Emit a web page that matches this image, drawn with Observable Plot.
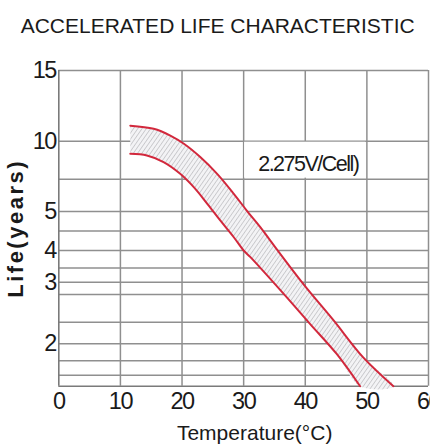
<!DOCTYPE html>
<html><head><meta charset="utf-8">
<script src="https://cdn.jsdelivr.net/npm/d3@7"></script>
<script src="https://cdn.jsdelivr.net/npm/@observablehq/plot@0.6"></script>
<style>
html,body{margin:0;padding:0;background:#fff;overflow:hidden;}
</style></head><body>
<div id="chart"></div>
<script>
const title = "ACCELERATED LIFE CHARACTERISTIC";
const xLabel = "Temperature(°C)";
const yLabel = "Life(years)";
const noteText = "2.275V/Cell)";
const tempTicks = [0, 10, 20, 30, 40, 50, 60];
const tempGrid = [10, 20, 30, 40, 50, 60];
const lifeTicks = [2, 3, 4, 5, 10, 15];
const lifeGrid = [1.63, 1.8, 2, 2.35, 2.8, 3, 3.45, 4, 4.5, 5, 7.3, 10, 15];
const lifeBreaks = [1.5, 2, 3, 4, 5, 10, 15];
// upper and lower edges of the life band
const upperTemp = [11.6, 15.4, 18.1, 20.3, 23.0, 25.7, 28.4, 30.5, 32.7, 34.3, 39.7, 44.6, 49.4, 54.3];
const upperLife = [11.1, 10.88, 10.4, 9.82, 8.86, 7.68, 6.26, 5.07, 4.6, 4.26, 2.97, 2.38, 1.84, 1.5];
const lowerTemp = [11.6, 14.3, 17.0, 19.7, 21.9, 24.1, 26.2, 28.4, 30.0, 31.1, 36.5, 40.8, 45.1, 48.9];
const lowerLife = [9.1, 8.98, 8.51, 7.68, 6.73, 5.55, 4.77, 4.34, 4.0, 3.79, 2.81, 2.32, 1.88, 1.5];
// annotation cell
const noteCell = {temp1: 30, temp2: 50, life1: 7.3, life2: 10, temp: 40.5, life: 8.4};

const upper = upperTemp.map((t, i) => ({temp: t, life: upperLife[i]}));
const lower = lowerTemp.map((t, i) => ({temp: t, life: lowerLife[i]}));
const band = upper.concat(lower.slice().reverse());

const W = 430, H = 448;
const mL = 58.3, mR = 2, mT = 70, mB = 62.3;
const font = "'Liberation Sans',Arial,sans-serif";
const grid = "#8f8f8f";
const red = "#d2283c";

const svg = Plot.plot({
  width: W, height: H,
  marginLeft: mL, marginRight: mR, marginTop: mT, marginBottom: mB,
  style: {fontFamily: font, color: "#1a1a1a", background: "#fff", overflow: "visible"},
  x: {domain: [0, 60]},
  y: {type: "linear", domain: lifeBreaks, range: [385.7, 343.3, 281.7, 250, 211, 140.7, 70]},
  marks: [
    Plot.ruleX(tempGrid, {stroke: grid, strokeWidth: 1.5, y1: 1.5, y2: 15}),
    Plot.ruleY(lifeGrid, {stroke: grid, strokeWidth: 1.5, x1: 0, x2: 60}),
    Plot.ruleX([0], {stroke: "#7a7a7a", strokeWidth: 1.6, y1: 1.5, y2: 15}),
    Plot.ruleY([1.5], {stroke: "#7a7a7a", strokeWidth: 1.6, x1: 0, x2: 60}),
    Plot.rect([noteCell], {x1: "temp1", x2: "temp2", y1: "life1", y2: "life2", fill: "#fff", inset: 1}),
    Plot.text([noteCell], {x: "temp", y: "life", text: () => noteText, fontSize: 21.5, fill: "#1a1a1a", className: "note"}),
    Plot.line(band, {x: "temp", y: "life", fill: "url(#hatch)", stroke: "none", curve: "catmull-rom"}),
    Plot.line(upper, {x: "temp", y: "life", stroke: red, strokeWidth: 2, curve: "catmull-rom"}),
    Plot.line(lower, {x: "temp", y: "life", stroke: red, strokeWidth: 2, curve: "catmull-rom"}),
    Plot.axisY({ticks: lifeTicks, tickSize: 0, tickPadding: 3, fontSize: 23.5, label: null}),
    Plot.axisX({ticks: tempTicks, tickSize: 0, tickPadding: 6, fontSize: 23.5, label: null}),
    Plot.text([xLabel], {text: d => d, frameAnchor: "bottom", dy: 47, dx: 11, fontSize: 21, fill: "#1a1a1a", lineAnchor: "middle"}),
    Plot.text([yLabel], {text: d => d, frameAnchor: "left", textAnchor: "middle", rotate: -90, dx: -42.5, dy: 0, fontSize: 22, fontWeight: "bold", fill: "#1a1a1a", lineAnchor: "middle", className: "ylab"}),
    Plot.text([title], {text: d => d, frameAnchor: "top", dy: -44.6, dx: -26, fontSize: 21, fill: "#1a1a1a", lineAnchor: "middle"})
  ]
});

const root = d3.select(svg);
const defs = root.insert("defs", ":first-child");
const pat = defs.append("pattern").attr("id", "hatch").attr("patternUnits", "userSpaceOnUse")
  .attr("width", 3.5).attr("height", 3.5).attr("patternTransform", "rotate(35)");
pat.append("rect").attr("width", 3.5).attr("height", 3.5).attr("fill", "#f3f3f5");
pat.append("line").attr("x1", 0).attr("y1", 0).attr("x2", 0).attr("y2", 3.5).attr("stroke", "#b4b4b8").attr("stroke-width", 1.2);

root.selectAll("g[aria-label='y-axis tick label'], g[aria-label='x-axis tick label']").attr("letter-spacing", "-1.5px");
root.selectAll(".ylab").attr("letter-spacing", "2.5px");
root.selectAll(".note").attr("letter-spacing", "-1.5px");

document.getElementById("chart").appendChild(svg);
</script>
</body></html>
